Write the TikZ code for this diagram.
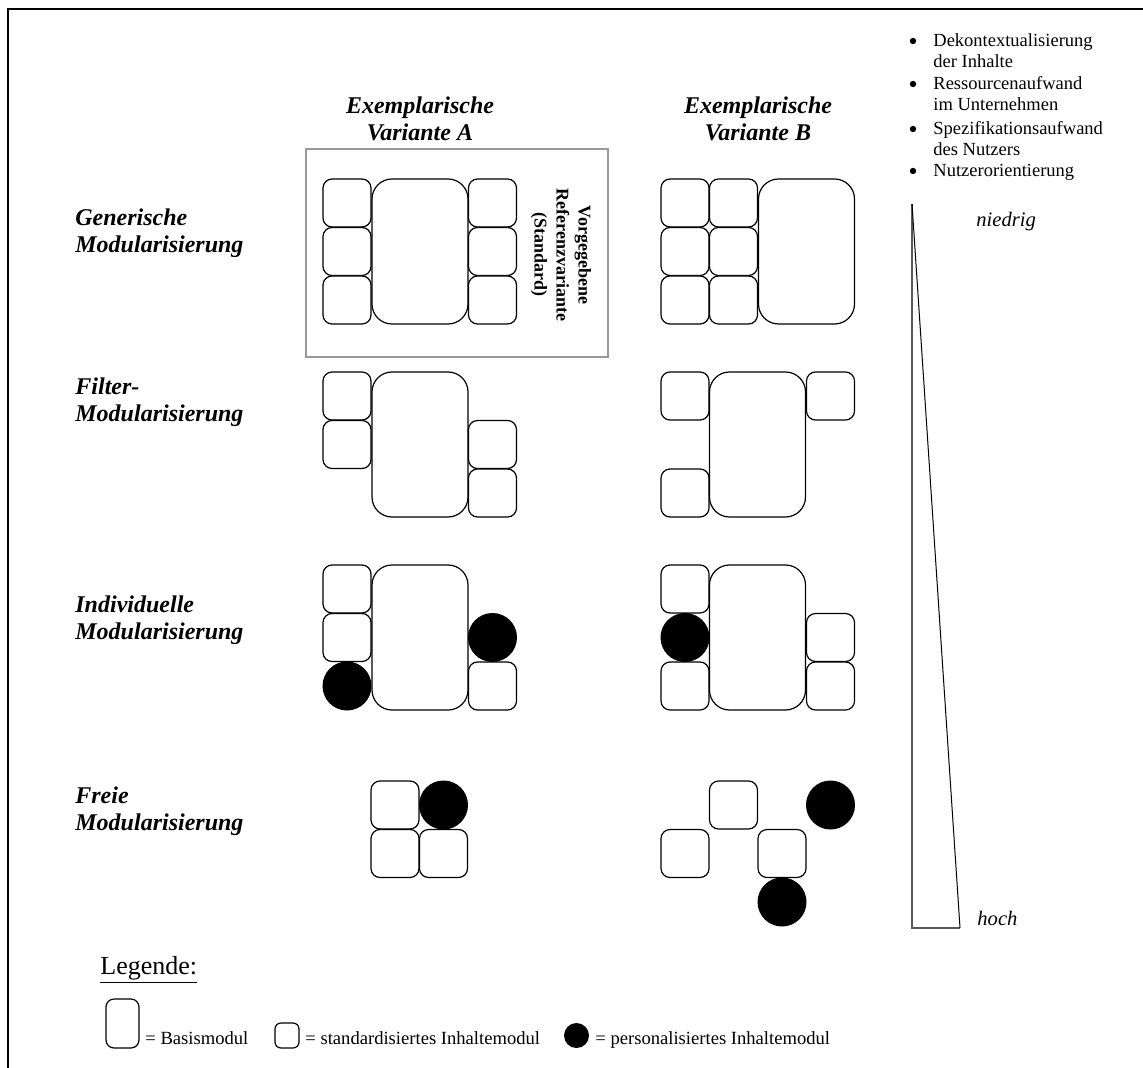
\documentclass[tikz,border=0pt]{standalone}
\usepackage{fontspec}
\setmainfont{Liberation Serif}
\begin{document}
\begin{tikzpicture}[x=0.5pt,y=-0.5pt,
  mod/.style={draw=black, line width=0.6pt, fill=white, rounded corners=4.5pt,
    inner sep=0pt, minimum width=24pt, minimum height=24pt},
  basis/.style={mod, rounded corners=10pt, minimum width=48pt, minimum height=72.5pt},
  pers/.style={circle, fill=black, draw=none, inner sep=0pt, minimum size=24.5pt},
  rowlabel/.style={anchor=base west, inner sep=0pt, align=left,
    font=\fontsize{12}{13.5}\selectfont\bfseries\itshape},
  colhead/.style={anchor=base, inner sep=0pt, align=center,
    font=\fontsize{12}{13.5}\selectfont\bfseries\itshape},
  bulletitem/.style={anchor=base west, inner sep=0pt, align=left,
    font=\fontsize{9.25}{10.5}\selectfont},
  bulletdot/.style={circle, fill=black, draw=none, inner sep=0pt, minimum size=3.2pt},
  scalelabel/.style={anchor=base west, inner sep=0pt, font=\fontsize{10.3}{12}\selectfont\itshape},
  legtext/.style={anchor=base west, inner sep=0pt, font=\fontsize{9.3}{11}\selectfont},
  frameline/.style={line width=1pt, black},
  refbox/.style={draw=black!40, line width=1pt},
  scaleside/.style={draw=black!65, line width=0.8pt},
  scaleslope/.style={draw=black, line width=0.5pt}
]
\useasboundingbox (0,0) rectangle (1143,1068);

% outer frame (top and left edge)
\coordinate (frBL) at (8,1068);
\coordinate (frTL) at (8,9);
\coordinate (frTR) at (1143,9);
\draw[frameline] (frBL) -- (frTL) -- (frTR);

% column headings (anchored at the baseline of the last line)
\node[colhead] (headA) at (420,141) {Exemplarische\\Variante A};
\node[colhead] (headB) at (758,141) {Exemplarische\\Variante B};

% row headings
\node[rowlabel] (rowGen) at (75,253) {Generische\\Modularisierung};
\node[rowlabel] (rowFil) at (75,422) {Filter-\\Modularisierung};
\node[rowlabel] (rowInd) at (75,639) {Individuelle\\Modularisierung};
\node[rowlabel] (rowFre) at (75,830) {Freie\\Modularisierung};

% reference variant frame
\draw[refbox] (306,149) rectangle (608,357);
\node[rotate=-90, inner sep=0pt, align=center,
  font=\fontsize{9}{11}\selectfont\bfseries] (refText) at (561,255)
  {Vorgegebene\\Referenzvariante\\(Standard)};

% --- generic modularisation, variant A
\node[mod] (gA1) at (347,203) {};
\node[mod] (gA2) at (347,251.5) {};
\node[mod] (gA3) at (347,300) {};
\node[basis] (gAb) at (420,251.5) {};
\node[mod] (gA4) at (492.5,203) {};
\node[mod] (gA5) at (492.5,251.5) {};
\node[mod] (gA6) at (492.5,300) {};
% --- generic modularisation, variant B
\node[mod] (gB1) at (685,203) {};
\node[mod] (gB2) at (685,251.5) {};
\node[mod] (gB3) at (685,300) {};
\node[mod] (gB4) at (733.5,203) {};
\node[mod] (gB5) at (733.5,251.5) {};
\node[mod] (gB6) at (733.5,300) {};
\node[basis] (gBb) at (806.5,251.5) {};

% --- filter modularisation, variant A
\node[mod] (fA1) at (347,396) {};
\node[mod] (fA2) at (347,444.5) {};
\node[basis] (fAb) at (420,444.5) {};
\node[mod] (fA3) at (492.5,444.5) {};
\node[mod] (fA4) at (492.5,493) {};
% --- filter modularisation, variant B
\node[mod] (fB1) at (685,396) {};
\node[mod] (fB2) at (685,493) {};
\node[basis] (fBb) at (757.5,444.5) {};
\node[mod] (fB3) at (830.5,396) {};

% --- individual modularisation, variant A
\node[mod] (iA1) at (347,589) {};
\node[mod] (iA2) at (347,637.5) {};
\node[pers] (iA3) at (347,686) {};
\node[basis] (iAb) at (420,637.5) {};
\node[pers] (iA4) at (492.5,637.5) {};
\node[mod] (iA5) at (492.5,686) {};
% --- individual modularisation, variant B
\node[mod] (iB1) at (685,589) {};
\node[pers] (iB2) at (685,637.5) {};
\node[mod] (iB3) at (685,686) {};
\node[basis] (iBb) at (757.5,637.5) {};
\node[mod] (iB4) at (830.5,637.5) {};
\node[mod] (iB5) at (830.5,686) {};

% --- free modularisation, variant A
\node[mod] (rA1) at (395,805) {};
\node[pers] (rA2) at (443.5,805) {};
\node[mod] (rA3) at (395,853.5) {};
\node[mod] (rA4) at (443.5,853.5) {};
% --- free modularisation, variant B
\node[mod] (rB1) at (733.5,805) {};
\node[pers] (rB2) at (830.5,805) {};
\node[mod] (rB3) at (685,853.5) {};
\node[mod] (rB4) at (782,853.5) {};
\node[pers] (rB5) at (782,902) {};

% criteria list (items anchored at the baseline of their last line)
\node[bulletdot] (b1) at (913,41) {};
\node[bulletitem] (c1) at (933,68) {Dekontextualisierung\\der Inhalte};
\node[bulletdot] (b2) at (913,84) {};
\node[bulletitem] (c2) at (933,111) {Ressourcenaufwand\\im Unternehmen};
\node[bulletdot] (b3) at (913,129) {};
\node[bulletitem] (c3) at (933,156) {Spezifikationsaufwand\\des Nutzers};
\node[bulletdot] (b4) at (913,171) {};
\node[bulletitem] (c4) at (933,177) {Nutzerorientierung};

% low/high scale wedge
\coordinate (wTop) at (912,204);
\coordinate (wBot) at (912,928);
\coordinate (wRight) at (960,928);
\draw[scaleside] (wTop) -- (wBot) -- (wRight);
\draw[scaleslope] (wTop) -- (wRight);
\node[scalelabel] (low) at (976,227) {niedrig};
\node[scalelabel] (high) at (977,925) {hoch};

% legend
\node[anchor=base west, inner sep=0pt, font=\fontsize{13}{15}\selectfont] (legTitle) at (100,974) {\underline{Legende:}};
\node[mod, rounded corners=4pt, minimum width=16.5pt, minimum height=24.5pt] (legBasis) at (122.5,1023.5) {};
\node[legtext] (legBasisTxt) at (145,1044) {= Basismodul};
\node[mod, rounded corners=3pt, minimum width=12pt, minimum height=12.5pt] (legStd) at (287,1035.5) {};
\node[legtext] (legStdTxt) at (305,1044) {= standardisiertes Inhaltemodul};
\node[pers, minimum size=12.5pt] (legPers) at (576.5,1035.5) {};
\node[legtext] (legPersTxt) at (595,1044) {= personalisiertes Inhaltemodul};
\end{tikzpicture}
\end{document}
